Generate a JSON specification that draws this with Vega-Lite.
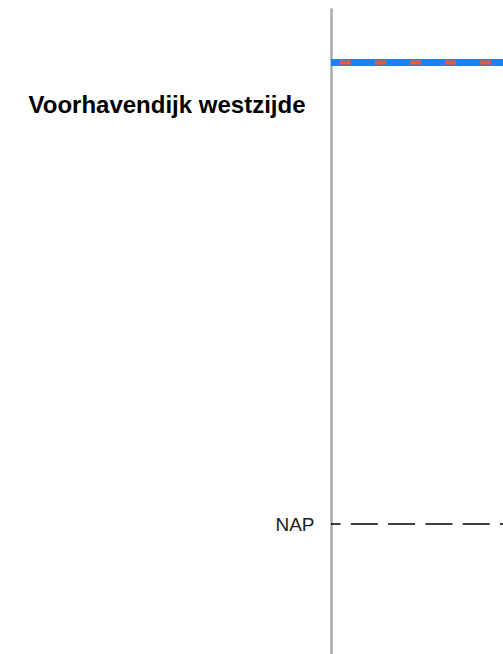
{
  "$schema": "https://vega.github.io/schema/vega-lite/v6.json",
  "autosize": "none",
  "width": 172,
  "height": 646,
  "padding": {"left": 331, "top": 8, "right": 0, "bottom": 0},
  "background": "white",
  "config": {"view": {"stroke": null}},
  "datasets": {
    "lines": [
      {"name": "kruin", "hoogte": 9},
      {"name": "NAP", "hoogte": 0}
    ]
  },
  "data": {"name": "lines"},
  "encoding": {
    "y": {
      "field": "hoogte",
      "type": "quantitative",
      "scale": {"domain": [-2.535, 10.063], "nice": false, "zero": false},
      "axis": {
        "title": "Voorhavendijk westzijde",
        "titleAngle": 0,
        "titleAlign": "right",
        "titleBaseline": "middle",
        "titleX": -26,
        "titleY": 97,
        "titleFont": "Liberation Sans",
        "titleFontSize": 24,
        "titleFontWeight": "bold",
        "titleColor": "#000000",
        "values": [0],
        "labelExpr": "'NAP'",
        "labelFont": "Liberation Sans",
        "labelFontSize": 19,
        "labelColor": "#222222",
        "labelPadding": 17,
        "ticks": false,
        "grid": false,
        "domainColor": "#a8a8a8",
        "domainWidth": 2.5
      }
    }
  },
  "layer": [
    {
      "transform": [{"filter": "datum.name == 'kruin'"}],
      "mark": {"type": "rule", "color": "#1a80ff", "strokeWidth": 7}
    },
    {
      "transform": [{"filter": "datum.name == 'kruin'"}],
      "mark": {"type": "rule", "color": "#ff5a14", "strokeWidth": 4, "strokeDash": [11, 24], "strokeDashOffset": 23}
    },
    {
      "transform": [{"filter": "datum.name == 'NAP'"}],
      "mark": {"type": "rule", "color": "#000000", "strokeWidth": 1.5, "strokeDash": [27, 10.3], "strokeDashOffset": 24}
    }
  ]
}
